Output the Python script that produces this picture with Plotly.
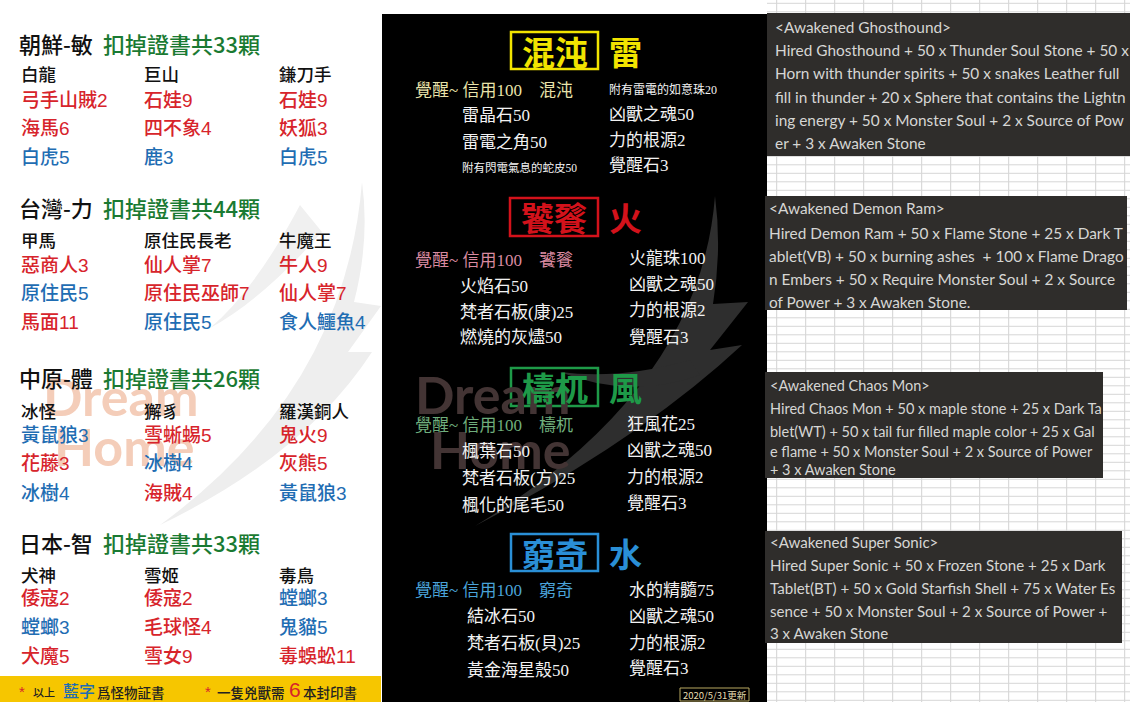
import plotly.graph_objects as go

W, H = 1130, 702

# ---------------- data: left panel (seal certificates) ----------------
regions = ["朝鮮-敏", "台灣-力", "中原-體", "日本-智"]
totals = [33, 44, 26, 33]
bosses = [
    ["白龍", "巨山", "鎌刀手"],
    ["甲馬", "原住民長老", "牛魔王"],
    ["冰怪", "獬豸", "羅漢銅人"],
    ["犬神", "雪姬", "毒鳥"],
]
drop_names = [
    [["弓手山賊", "海馬", "白虎"], ["石娃", "四不象", "鹿"], ["石娃", "妖狐", "白虎"]],
    [["惡商人", "原住民", "馬面"], ["仙人掌", "原住民巫師", "原住民"], ["牛人", "仙人掌", "食人鱷魚"]],
    [["黃鼠狼", "花藤", "冰樹"], ["雪蜥蜴", "冰樹", "海賊"], ["鬼火", "灰熊", "黃鼠狼"]],
    [["倭寇", "螳螂", "犬魔"], ["倭寇", "毛球怪", "雪女"], ["螳螂", "鬼貓", "毒蜈蚣"]],
]
drop_counts = [
    [[2, 6, 5], [9, 4, 3], [9, 3, 5]],
    [[3, 5, 11], [7, 7, 5], [9, 7, 4]],
    [[3, 3, 4], [5, 4, 4], [9, 5, 3]],
    [[2, 3, 5], [2, 4, 9], [3, 5, 11]],
]
drop_is_cert = [
    [[0, 0, 1], [0, 0, 1], [0, 0, 1]],
    [[0, 1, 0], [0, 0, 1], [0, 0, 1]],
    [[1, 0, 1], [0, 1, 0], [0, 0, 1]],
    [[0, 1, 0], [0, 0, 0], [1, 1, 0]],
]
footer_note1 = ["以上", "藍字", "爲怪物証書"]
footer_note2 = ["一隻兇獸需", "6", "本封印書"]

# ---------------- data: middle panel (awakening recipes) ----------------
beasts = ["混沌", "饕餮", "檮杌", "窮奇"]
elements = ["雷", "火", "風", "水"]
credit = [100, 100, 100, 100]
left_materials = [
    ["雷晶石", "雷電之角", "附有閃電氣息的蛇皮"],
    ["火焰石", "梵者石板(康)", "燃燒的灰燼"],
    ["楓葉石", "梵者石板(方)", "楓化的尾毛"],
    ["結冰石", "梵者石板(貝)", "黃金海星殼"],
]
left_qty = [[50, 50, 50], [50, 25, 50], [50, 25, 50], [50, 25, 50]]
right_materials = [
    ["附有雷電的如意珠", "凶獸之魂", "力的根源", "覺醒石"],
    ["火龍珠", "凶獸之魂", "力的根源", "覺醒石"],
    ["狂風花", "凶獸之魂", "力的根源", "覺醒石"],
    ["水的精髓", "凶獸之魂", "力的根源", "覺醒石"],
]
right_qty = [[20, 50, 2, 3], [100, 50, 2, 3], [25, 50, 2, 3], [75, 50, 2, 3]]
update_date = "2020/5/31"

# ---------------- data: right panel (English recipes) ----------------
recipes_en = [
    ["<Awakened Ghosthound>",
     "Hired Ghosthound + 50 x Thunder Soul Stone + 50 x",
     "Horn with thunder spirits + 50 x snakes Leather full",
     "fill in thunder + 20 x Sphere that contains the Lightn",
     "ing energy + 50 x Monster Soul + 2 x Source of Pow",
     "er + 3 x Awaken Stone"],
    ["<Awakened Demon Ram>",
     "Hired Demon Ram + 50 x Flame Stone + 25 x Dark T",
     "ablet(VB) + 50 x burning ashes  + 100 x Flame Drago",
     "n Embers + 50 x Require Monster Soul + 2 x Source",
     "of Power + 3 x Awaken Stone."],
    ["<Awakened Chaos Mon>",
     "Hired Chaos Mon + 50 x maple stone + 25 x Dark Ta",
     "blet(WT) + 50 x tail fur filled maple color + 25 x Gal",
     "e flame + 50 x Monster Soul + 2 x Source of Power",
     "+ 3 x Awaken Stone"],
    ["<Awakened Super Sonic>",
     "Hired Super Sonic + 50 x Frozen Stone + 25 x Dark",
     "Tablet(BT) + 50 x Gold Starfish Shell + 75 x Water Es",
     "sence + 50 x Monster Soul + 2 x Source of Power +",
     "3 x Awaken Stone"],
]

# ---------------- styles & layout positions ----------------
CJK = "Noto Sans CJK TC"
SERIF_CJK = "Liberation Serif, Noto Sans CJK TC"
RED, BLUE, GREEN = "#d7242b", "#1f6db3", "#1a7a32"
beast_colors = ["#f2e400", "#d3121b", "#1e9a48", "#2a8fd6"]
prefix_colors = ["#e9e3aa", "#d98aa0", "#6fae7c", "#4aa3d9"]

left_pos = [  # header y, boss-name y, rows y
    (43, 73, [100, 128, 157]),
    (207, 239, [265, 293, 322]),
    (377, 410, [435, 463, 493]),
    (542, 574, [598, 627, 656]),
]
left_col_x = [19, 142, 277]

mid_pos = [  # box (x0,y0,x1,y1), line ys left, line ys right, indent x, right x
    ((511, 32, 598, 69), [90, 115, 142, 167], [89, 114, 140, 165], 460, 607),
    ((510, 198, 598, 236), [260, 286, 312, 337], [258, 284, 310, 337], 458, 627),
    ((511, 368, 598, 406), [425, 451, 478, 505], [424, 450, 477, 503], 460, 625),
    ((511, 534, 598, 571), [590, 616, 643, 670], [590, 616, 643, 668], 465, 627),
]

right_boxes = [(767, 13, 1132, 156), (765, 196, 1127, 310), (765, 372, 1103, 478), (765, 531, 1122, 643)]
right_line_y = [[27, 50, 73, 97, 120, 143], [208, 233, 256, 279, 302],
                [385, 408, 431, 451, 469], [542, 565, 588, 611, 633]]
right_text_x = [773, 767, 768, 768]
right_font = [15.4, 15.4, 14.5, 15.1]

shapes = []
annotations = []


def ann(x, y, text, size, color, family=CJK, xanchor="left", weight="normal", opacity=1):
    annotations.append(dict(
        x=x, y=y, xref="x", yref="y", text=text, showarrow=False,
        xanchor=xanchor, yanchor="middle", opacity=opacity,
        font=dict(size=size, color=color, family=family, weight=weight),
    ))


def rect(x0, y0, x1, y1, fill=None, line=None, lw=0, layer="below"):
    shapes.append(dict(type="rect", xref="x", yref="y", x0=x0, y0=y0, x1=x1, y1=y1,
                       fillcolor=fill if fill else "rgba(0,0,0,0)",
                       line=dict(color=line if line else "rgba(0,0,0,0)", width=lw),
                       layer=layer))


def path(d, fill, layer="below"):
    shapes.append(dict(type="path", xref="x", yref="y", path=d, fillcolor=fill,
                       line=dict(width=0), layer=layer))


# ---------- backgrounds ----------
rect(0, 0, 381, H, fill="#ffffff")
rect(381, 0, 766, 14, fill="#ffffff")
rect(382, 14, 767, H, fill="#000000")
rect(767, 0, W, H, fill="#ffffff")

# spreadsheet grid on right panel
gx = 776.7
while gx < W:
    shapes.append(dict(type="line", xref="x", yref="y", x0=gx, x1=gx, y0=0, y1=H,
                       line=dict(color="#d2d2d2", width=1), layer="below"))
    gx += 29
gy = 3.3
while gy < H:
    shapes.append(dict(type="line", xref="x", yref="y", x0=767, x1=W, y0=gy, y1=gy,
                       line=dict(color="#d6d6d6", width=1), layer="below"))
    gy += 8.5

# feather watermarks (soft)
path("M 362,182 Q 345,390 160,525 Q 305,455 372,352 L 348,352 L 381,306 L 354,302 Q 370,240 362,182 Z",
     "#eeeeee")
path("M 300,205 Q 255,290 210,328 Q 262,300 322,232 Z", "#f0f0f0")
path("M 715,196 Q 700,390 475,526 Q 640,440 742,345 L 710,350 L 748,302 L 713,304 Q 722,250 715,196 Z",
     "#2e2e2e")
path("M 690,360 Q 620,380 560,372 Q 630,400 700,375 Z", "#2e2e2e")
# footer band
rect(0, 676, 381, H, fill="#f6c600")

# "Dream Home" watermark text
ann(120, 396, "Dream", 52, "#f4cdb9", family="Lato", xanchor="center", weight="bold")
ann(124, 446, "Home", 52, "#f4cdb9", family="Lato", xanchor="center", weight="bold")
ann(492, 394, "Dream", 52, "#433434", family="Lato", xanchor="center", weight="bold")
ann(500, 449, "Home", 52, "#433434", family="Lato", xanchor="center", weight="bold")

# ---------- left panel text ----------
for s in range(4):
    hy, by, rows = left_pos[s]
    ann(17, hy, regions[s], 22, "#111111", weight=500)
    ann(101, hy, f"扣掉證書共{totals[s]}顆", 22, GREEN, weight=500)
    for c in range(3):
        ann(left_col_x[c], by, bosses[s][c], 17.5, "#111111", weight=500)
        for r in range(3):
            color = BLUE if drop_is_cert[s][c][r] else RED
            ann(left_col_x[c], rows[r], f"{drop_names[s][c][r]}{drop_counts[s][c][r]}", 19, color,
                family="Arial, Liberation Sans, " + CJK, weight=500)

# footer
ann(17, 691, "*", 15, RED, family="Liberation Sans")
ann(31, 692, footer_note1[0], 11, "#222222", weight=500)
ann(61, 690, footer_note1[1], 16, "#1f6db3", weight=500)
ann(95, 692, footer_note1[2], 13.5, "#222222", weight=500)
ann(203, 691, "*", 15, RED, family="Liberation Sans")
ann(215, 692, footer_note2[0], 13.5, "#222222", weight=500)
ann(287, 689, footer_note2[1], 21, RED, family="Liberation Sans")
ann(301, 692, footer_note2[2], 13.5, "#222222", weight=500)

# ---------- middle panel text ----------
for s in range(4):
    (bx0, by0, bx1, by1), ly, ry, ix, rx = mid_pos[s]
    col = beast_colors[s]
    rect(bx0, by0, bx1, by1, line=col, lw=2.5, layer="above")
    ann((bx0 + bx1) / 2, (by0 + by1) / 2, beasts[s], 33, col, xanchor="center", weight="bold")
    ann(bx1 + 9, (by0 + by1) / 2, elements[s], 33, col, weight="bold")
    ann(413, ly[0], f"覺醒~ 信用{credit[s]}　{beasts[s]}", 17, prefix_colors[s], family=SERIF_CJK)
    for i in range(3):
        name = left_materials[s][i]
        size = 11.5 if len(name) > 7 else 17
        ann(ix, ly[i + 1], f"{name}{left_qty[s][i]}", size, "#f2f2f2", family=SERIF_CJK)
    for i in range(4):
        name = right_materials[s][i]
        size = 12 if len(name) > 7 else 17
        ann(rx, ry[i], f"{name}{right_qty[s][i]}", size, "#f2f2f2", family=SERIF_CJK)

rect(680, 688, 749, 701, fill="#000000", line="#b8a860", lw=1, layer="above")
ann(714.5, 694.5, f"{update_date}更新", 9.5, "#e6dcb0", xanchor="center")

# ---------- right panel text ----------
for b in range(4):
    x0, y0, x1, y1 = right_boxes[b]
    rect(x0, y0, x1, y1, fill="#2f2d2b")
    for i, line in enumerate(recipes_en[b]):
        ann(right_text_x[b], right_line_y[b][i], line.replace("<", "&lt;").replace(">", "&gt;"),
            right_font[b], "#d6d6d4", family="Lato")

fig = go.Figure()
fig.add_trace(go.Scatter(x=[0, W], y=[0, H], mode="markers", marker=dict(opacity=0),
                         hoverinfo="skip", showlegend=False))
fig.update_layout(
    width=W, height=H, margin=dict(l=0, r=0, t=0, b=0),
    paper_bgcolor="#ffffff", plot_bgcolor="#ffffff",
    xaxis=dict(range=[0, W], visible=False, fixedrange=True),
    yaxis=dict(range=[H, 0], visible=False, fixedrange=True),
    shapes=shapes, annotations=annotations, showlegend=False,
)
fig.write_html("out.html", config={"displayModeBar": False},
               post_script="document.body.style.margin='0';document.body.style.overflow='hidden';")
